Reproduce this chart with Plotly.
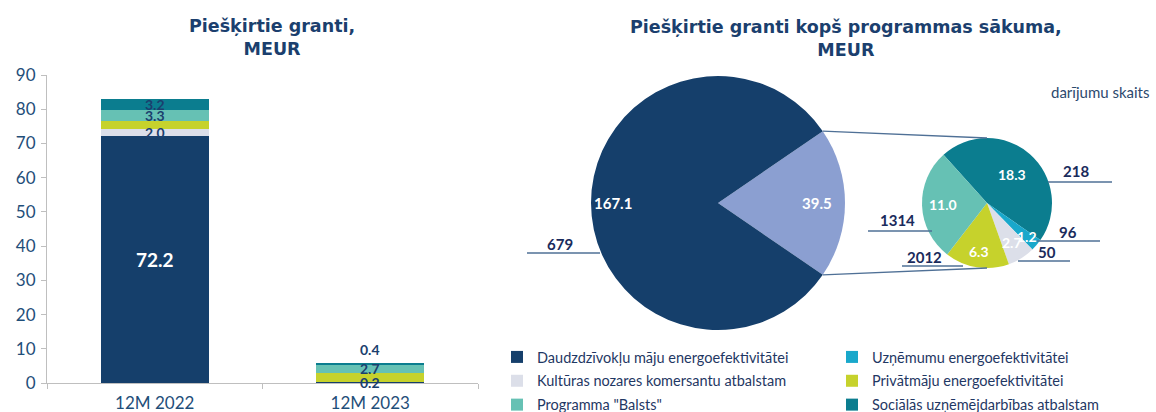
import math
import plotly.graph_objects as go

# ---------------- data ----------------
CATEGORIES = ["12M 2022", "12M 2023"]
SERIES = [
    "Daudzdzīvokļu māju energoefektivitātei",
    "Uzņēmumu energoefektivitātei",
    "Kultūras nozares komersantu atbalstam",
    "Privātmāju energoefektivitātei",
    "Programma \"Balsts\"",
    "Sociālās uzņēmējdarbības atbalstam",
]
daudzdzivoklu = [72.2, 0.2]
uznemumu = [0.0, 0.0]
kulturas = [2.0, 0.0]
privatmaju = [2.3, 2.6]
balsts = [3.3, 2.7]
socialas = [3.2, 0.4]
BAR_VALUES = [daudzdzivoklu, uznemumu, kulturas, privatmaju, balsts, socialas]

PIE_MAIN_LABELS = ["Pārējās programmas", "Daudzdzīvokļu māju energoefektivitātei"]
PIE_MAIN_VALUES = [39.5, 167.1]
PIE_MAIN_COUNTS = [None, 679]

PIE_SUB_LABELS = [
    "Sociālās uzņēmējdarbības atbalstam",
    "Uzņēmumu energoefektivitātei",
    "Kultūras nozares komersantu atbalstam",
    "Privātmāju energoefektivitātei",
    "Programma \"Balsts\"",
]
PIE_SUB_VALUES = [18.3, 1.2, 2.7, 6.3, 11.0]
PIE_SUB_COUNTS = [218, 96, 50, 2012, 1314]

TITLE_LEFT = "Piešķirtie granti,<br>MEUR"
TITLE_RIGHT = "Piešķirtie granti kopš programmas sākuma,<br>MEUR"
COUNT_NOTE = "darījumu skaits"

# ---------------- style ----------------
W, H = 1156, 412
FONT = "Lato"
TITLE_FONT = "DejaVu Sans"
NAVY = "#1b3f6e"
TICK_C = "#1f4e79"
COLORS = {
    SERIES[0]: "#153f6b",
    SERIES[1]: "#19a8cb",
    SERIES[2]: "#dcdfe9",
    SERIES[3]: "#c6d22c",
    SERIES[4]: "#66c1b4",
    SERIES[5]: "#0b7d8f",
}
OTHER_C = "#8b9fd1"
LEADER_C = "#4f7096"


def PX(x):
    return x / W


def PY(y):
    return 1 - y / H


def ann(x, y, text, font, **kw):
    d = dict(x=PX(x), y=PY(y), xref="paper", yref="paper", text=text, showarrow=False,
             xanchor="center", yanchor="middle", font=font)
    d.update(kw)
    return d


fig = go.Figure()

# legend assignment (two columns)
legend_of = {SERIES[0]: "legend", SERIES[2]: "legend", SERIES[4]: "legend",
             SERIES[1]: "legend2", SERIES[3]: "legend2", SERIES[5]: "legend2"}

for name, vals in zip(SERIES, BAR_VALUES):
    fig.add_trace(go.Bar(
        x=CATEGORIES, y=vals, name=name,
        marker=dict(color=COLORS[name], line=dict(width=0)),
        legend=legend_of[name], legendgroup=name,
        hoverinfo="x+y+name",
    ))

# bar labels: mode per series/category: "in", "inwhite", "out", None
LABEL_MODE = [
    ["inwhite", "in"],
    [None, None],
    ["in", None],
    [None, None],
    ["in", "in"],
    ["in", "out"],
]
annotations = []
lab_font = dict(family=FONT, size=14, color=NAVY, weight="bold")
for j, cat in enumerate(CATEGORIES):
    base = 0.0
    total = sum(s[j] for s in BAR_VALUES)
    for i, vals in enumerate(BAR_VALUES):
        v = vals[j]
        mode = LABEL_MODE[i][j]
        txt = f"{v:.1f}"
        common = dict(x=cat, xref="x", yref="y", text=txt, showarrow=False, xanchor="center")
        if mode == "inwhite":
            annotations.append(dict(y=base + v / 2, yanchor="middle",
                                    font=dict(family=FONT, size=19, color="white", weight="bold"), **common))
        elif mode == "in":
            annotations.append(dict(y=base + v / 2, yanchor="middle", font=lab_font, **common))
        elif mode == "out":
            annotations.append(dict(y=total, yanchor="bottom", yshift=3, font=lab_font, **common))
        base += v

# ---------------- pies ----------------
cx, cy, R = 718, 203, 127
scx, scy, sR = 987, 203, 65

main_total = sum(PIE_MAIN_VALUES)
main_rot = 90 - 360 * PIE_MAIN_VALUES[0] / main_total / 2
sub_rot = -42

fig.add_trace(go.Pie(
    labels=PIE_MAIN_LABELS, values=PIE_MAIN_VALUES, sort=False, direction="clockwise",
    rotation=main_rot, textinfo="none", showlegend=False,
    marker=dict(colors=[OTHER_C, COLORS[SERIES[0]]], line=dict(width=0)),
    domain=dict(x=[PX(cx - R), PX(cx + R)], y=[PY(cy + R), PY(cy - R)]),
))
fig.add_trace(go.Pie(
    labels=PIE_SUB_LABELS, values=PIE_SUB_VALUES, sort=False, direction="clockwise",
    rotation=sub_rot, textinfo="none", showlegend=False,
    marker=dict(colors=[COLORS[l] for l in PIE_SUB_LABELS], line=dict(width=0)),
    domain=dict(x=[PX(scx - sR), PX(scx + sR)], y=[PY(scy + sR), PY(scy - sR)]),
))


def slice_angles(values, rot):
    tot = sum(values)
    a = rot
    out = []
    for v in values:
        span = 360 * v / tot
        out.append((a, a + span / 2, a + span))
        a += span
    return out


def polar(ccx, ccy, r, ang):
    t = math.radians(ang)
    return ccx + r * math.sin(t), ccy - r * math.cos(t)


main_sl = slice_angles(PIE_MAIN_VALUES, main_rot)
MAIN_R = [0.78, 0.83]
for (a0, am, a1), v, f in zip(main_sl, PIE_MAIN_VALUES, MAIN_R):
    x, y = polar(cx, cy, f * R, am)
    annotations.append(ann(x, y, f"{v:.1f}", dict(family=FONT, size=15, color="white", weight="bold")))

SUB_R = [0.58, 0.8, 0.72, 0.76, 0.68]
sub_sl = slice_angles(PIE_SUB_VALUES, sub_rot)
for (a0, am, a1), v, f in zip(sub_sl, PIE_SUB_VALUES, SUB_R):
    x, y = polar(scx, scy, f * sR, am)
    annotations.append(ann(x, y, f"{v:.1f}", dict(family=FONT, size=14, color="white", weight="bold")))

shapes = []
# connector lines from the "other" slice to the sub pie
p_top = polar(cx, cy, R, main_sl[0][0])
p_bot = polar(cx, cy, R, main_sl[0][2])
for p, q in [(p_top, (scx, scy - sR)), (p_bot, (scx, scy + sR))]:
    shapes.append(dict(type="line", xref="paper", yref="paper", x0=PX(p[0]), y0=PY(p[1]),
                       x1=PX(q[0]), y1=PY(q[1]), line=dict(color=LEADER_C, width=1.3)))

# count labels with underline (text center, line y, line x0, x1) in pixels
COUNT_POS_MAIN = {1: ((560, 244), (253, 527, 600))}
COUNT_POS_SUB = [((1076, 171), (182, 1048, 1112)),
                 ((1068, 232), (241, 1037, 1100)),
                 ((1047, 252), (261, 1018, 1070)),
                 ((924, 257), (266, 902, 963)),
                 ((897, 220), (231, 868, 932))]
count_items = []
for i, c in enumerate(PIE_MAIN_COUNTS):
    if c is not None:
        count_items.append((c, COUNT_POS_MAIN[i]))
for c, pos in zip(PIE_SUB_COUNTS, COUNT_POS_SUB):
    count_items.append((c, pos))
for c, ((tx, ty), (ly, lx0, lx1)) in count_items:
    annotations.append(ann(tx, ty, str(c), dict(family=FONT, size=15, color="#1a2b5c", weight="bold")))
    shapes.append(dict(type="line", xref="paper", yref="paper", x0=PX(lx0), x1=PX(lx1), y0=PY(ly), y1=PY(ly),
                       line=dict(color=LEADER_C, width=1.3)))

# titles & note
annotations.append(ann(272, 37.5, TITLE_LEFT, dict(family=TITLE_FONT, size=17.5, color=NAVY, weight="bold"),
                       align="center"))
annotations.append(ann(846, 39, TITLE_RIGHT, dict(family=TITLE_FONT, size=17.5, color=NAVY, weight="bold"),
                       align="center"))
annotations.append(ann(1151, 92, COUNT_NOTE, dict(family=FONT, size=15, color="#2d4a6e"), xanchor="right"))

leg_common = dict(orientation="v", xanchor="left", yanchor="top", bgcolor="rgba(0,0,0,0)",
                  font=dict(family=FONT, size=14.5, color="#1f3864"), tracegroupgap=2,
                  traceorder="grouped", itemclick=False)

fig.update_layout(
    width=W, height=H, margin=dict(l=0, r=0, t=0, b=0, autoexpand=False),
    paper_bgcolor="white", plot_bgcolor="white",
    barmode="stack", bargap=0.5,
    font=dict(family=FONT, color=TICK_C),
    xaxis=dict(domain=[PX(47), PX(478)], type="category", range=[-0.5, 1.5],
               showline=True, linecolor="#bfbfbf", linewidth=1, ticks="outside", tickson="boundaries",
               ticklen=5, tickcolor="#bfbfbf", tickfont=dict(family=FONT, size=17, color=TICK_C),
               ticklabelstandoff=5, showgrid=False, zeroline=False, fixedrange=True),
    yaxis=dict(domain=[PY(383), PY(75)], range=[0, 90], dtick=10, showline=True, linecolor="#bfbfbf",
               linewidth=1, ticks="outside", ticklen=5, tickcolor="#bfbfbf", showgrid=False, zeroline=False,
               tickfont=dict(family=FONT, size=17, color=TICK_C), ticklabelstandoff=2, fixedrange=True),
    legend=dict(x=PX(497), y=PY(341), **leg_common),
    legend2=dict(x=PX(832), y=PY(341), **leg_common),
    annotations=annotations,
    shapes=shapes,
)

fig.write_html(
    "out.html",
    config={"displayModeBar": False},
    post_script="document.body.style.margin='0';document.body.style.overflow='hidden';",
)
